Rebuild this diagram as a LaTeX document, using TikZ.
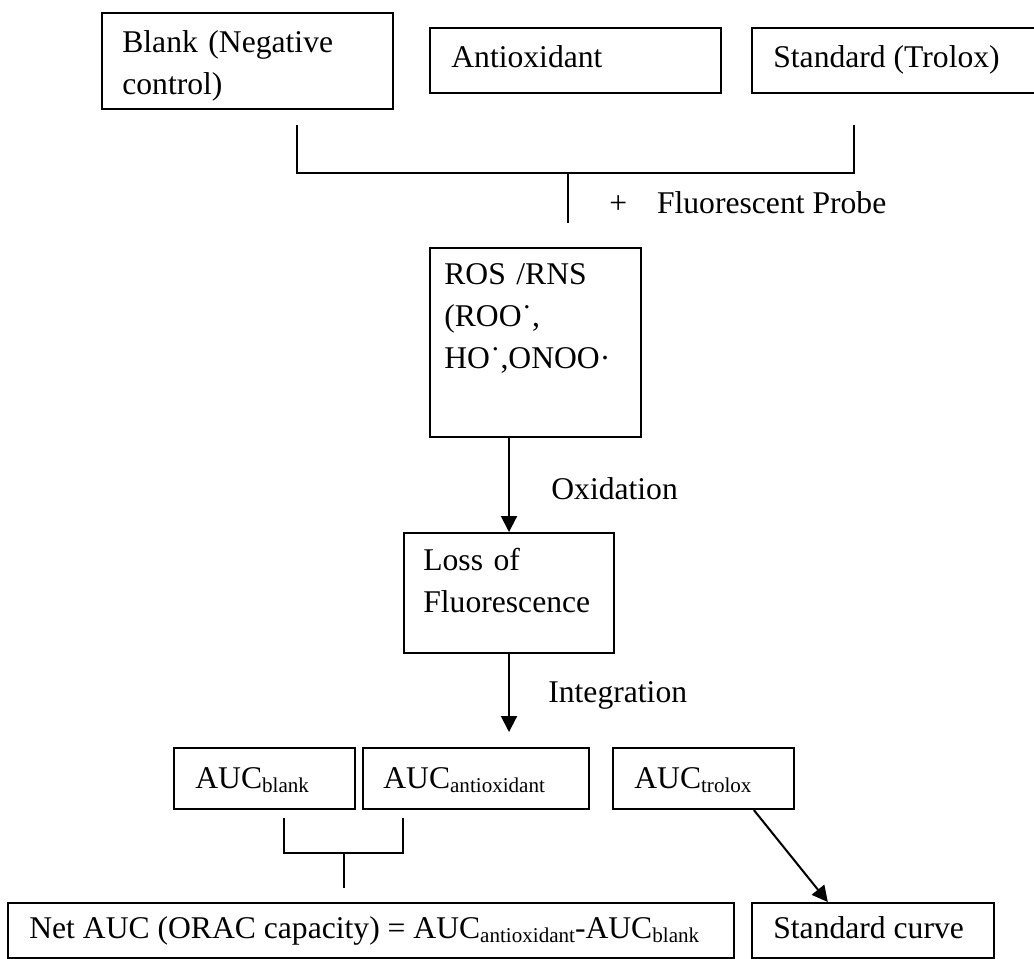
\documentclass[tikz,border=0pt]{standalone}
\usepackage{fontspec}
\setmainfont{Liberation Serif}
\usetikzlibrary{arrows.meta,calc}
\newlength\pxu
\setlength\pxu{0.02cm}
\newcommand{\lo}[1]{\raisebox{-2.5pt}{\fontsize{12}{12}\selectfont #1}}
\begin{document}
\begin{tikzpicture}[x=0.02cm,y=-0.02cm,font=\fontsize{18}{24}\selectfont,
    box/.style={draw,line width=1.15pt,anchor=north west,inner sep=0pt},
    lbl/.style={anchor=base west,inner sep=0pt,align=left},
    conn/.style={line width=1.15pt},
    arr/.style={conn,-{Triangle[width=9pt,length=9pt]}}]
    \useasboundingbox (0,0) rectangle (1034,958);
    % samples
    \node[box,minimum width=291\pxu,minimum height=96\pxu] (blank) at (101,12) {};
    \node[lbl,text width=260\pxu] (blank-t) at (122,52) {Blank (Negative\\control)};
    \node[box,minimum width=291\pxu,minimum height=65\pxu] (antiox) at (429,27) {};
    \node[lbl] (antiox-t) at (451,67) {Antioxidant};
    \node[box,minimum width=330\pxu,minimum height=65\pxu] (std) at (751,27) {};
    \node[lbl] (std-t) at (773,67) {Standard (Trolox)};
    \coordinate (tl) at (297,125);
    \coordinate (tr) at (854,125);
    \coordinate (tj) at (568,173);
    \coordinate (tj-end) at (568,223);
    \draw[conn] (tl) |- (tj) -| (tr);
    \draw[conn] (tj) -- (tj-end);
    \node[lbl] (probe) at (609,213) {+\hspace{17pt}Fluorescent Probe};
    % reaction
    \node[box,minimum width=211\pxu,minimum height=189\pxu] (ros) at (429,247) {};
    \node[lbl,text width=190\pxu] (ros-t) at (444,284) {ROS /RNS\\(ROO˙,\\HO˙,ONOO·};
    \node[box,minimum width=210\pxu,minimum height=120\pxu] (loss) at (403,532) {};
    \node[lbl,text width=190\pxu] (loss-t) at (423,570) {Loss of\\Fluorescence};
    \draw[arr] (ros.south -| loss.north) -- (loss.north);
    \node[lbl] (oxid) at (551,499) {Oxidation};
    % areas under curve
    \node[box,minimum width=181\pxu,minimum height=61\pxu] (aucb) at (173,747) {};
    \node[lbl] (aucb-t) at (195,788) {AUC\lo{blank}};
    \node[box,minimum width=226\pxu,minimum height=61\pxu] (auca) at (362,747) {};
    \node[lbl] (auca-t) at (383,788) {AUC\lo{antioxidant}};
    \node[box,minimum width=181\pxu,minimum height=61\pxu] (auct) at (612,747) {};
    \node[lbl] (auct-t) at (634,788) {AUC\lo{trolox}};
    \draw[arr] (loss.south) -- ([yshift=0.3cm]loss.south |- auca.north);
    \node[lbl] (integ) at (548,702) {Integration};
    \coordinate (bl) at (284,818);
    \coordinate (br) at (403,818);
    \coordinate (bj) at (344,853);
    \coordinate (bj-end) at (344,888);
    \draw[conn] (bl) |- (bj) -| (br);
    \draw[conn] (bj) -- (bj-end);
    % results
    \node[box,minimum width=726\pxu,minimum height=55\pxu] (net) at (7,902) {};
    \node[lbl] (net-t) at (29,938) {Net AUC (ORAC capacity) = AUC\lo{antioxidant}-AUC\lo{blank}};
    \node[box,minimum width=242\pxu,minimum height=55\pxu] (stdc) at (751,902) {};
    \node[lbl] (stdc-t) at (773,938) {Standard curve};
    \draw[arr] ($(auct.south)!0.55!(auct.south east)$) -- ($(stdc.north west)!0.63!(stdc.north)$);
\end{tikzpicture}
\end{document}
